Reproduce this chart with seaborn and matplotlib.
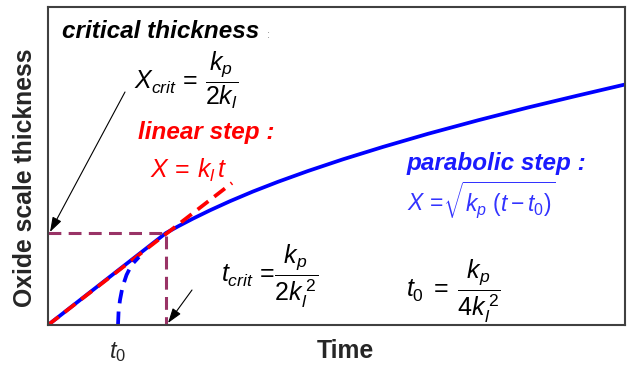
import matplotlib
matplotlib.use("Agg")
import matplotlib.pyplot as plt
import seaborn as sns

# ---- data (arbitrary units: time, thickness) ----
growth_t = [0, 118, 130, 145, 162, 182, 205, 230, 260, 295, 335, 380, 430, 480, 530, 577]
growth_x = [0, 92, 98.6, 106.4, 114.7, 123.8, 133.5, 143.2, 154, 165.7, 178.1, 191.2,
            204.7, 217.5, 229.5, 240.5]

linear_t = [0, 184]
linear_x = [0, 142]

parab_t = [70, 70.6, 72, 74.5, 78.5, 83.5, 91]
parab_x = [0, 14, 25, 38, 50, 60, 68]

crit_t = [0, 118, 118]
crit_x = [92, 92, 0]

t0_tick = [70]
t0_label = [r"$t_{\mathit{0}}$"]

# ---- style ----
sns.set_style("white")
plt.rcParams["font.family"] = ["Liberation Sans", "DejaVu Sans"]
plt.rcParams["mathtext.fontset"] = "custom"
plt.rcParams["mathtext.rm"] = "Liberation Sans"
plt.rcParams["mathtext.it"] = "Liberation Sans:italic"
plt.rcParams["mathtext.bf"] = "Liberation Sans:bold"

W, H = 632, 372
fig = plt.figure(figsize=(W / 100, H / 100), dpi=100)
L, R, T, B = 48, 625, 7, 325
ax = fig.add_axes([L / W, 1 - B / H, (R - L) / W, (B - T) / H])

BLUE = "#0000ff"
RED = "#ff0000"
PURPLE = "#993366"

sns.lineplot(x=growth_t, y=growth_x, sort=False, estimator=None, color=BLUE,
             lw=2.7, ax=ax, solid_joinstyle="round")
sns.lineplot(x=linear_t, y=linear_x, sort=False, estimator=None, color=RED,
             lw=2.7, linestyle=(0, (3.6, 2.0)), ax=ax)
sns.lineplot(x=crit_t, y=crit_x, sort=False, estimator=None, color=PURPLE,
             lw=2.2, linestyle=(0, (4.2, 2.4)), ax=ax)
sns.lineplot(x=parab_t, y=parab_x, sort=False, estimator=None, color=BLUE,
             lw=2.7, linestyle=(0, (3.6, 2.2)), ax=ax)

ax.set_xlim(0, R - L)
ax.set_ylim(0, B - T)
ax.set_xticks(t0_tick)
ax.set_xticklabels(t0_label, fontsize=17)
ax.set_yticks([])
ax.tick_params(axis="x", length=0, pad=11)
for s in ax.spines.values():
    s.set_color("#404040")
    s.set_linewidth(1.5)

ax.set_xlabel("Time", fontsize=17.8, fontweight="bold", va="center")
ax.xaxis.set_label_coords((345 - L) / (R - L), (B - 351) / (B - T))
ax.set_ylabel("Oxide scale thickness", fontsize=17.8, fontweight="bold", va="center")
ax.yaxis.set_label_coords((25 - L) / (R - L), (B - 178) / (B - T))


def px(x, y):
    return x / W, 1 - y / H


fig.text(*px(62, 31), "critical thickness", fontsize=17.5, fontweight="bold",
         fontstyle="italic", color="black", ha="left", va="center")
fig.text(*px(267, 35), ":", fontsize=8, color="#888888", ha="left", va="center")
fig.text(*px(134, 80), r"$X_{crit}\,=\,\dfrac{k_p}{2k_l}$", fontsize=18,
         color="black", ha="left", va="center")
fig.text(*px(138, 133), "linear step :", fontsize=17.5, fontweight="bold",
         fontstyle="italic", color=RED, ha="left", va="center")
fig.text(*px(150, 170), r"$X\,=\,k_l\,t$", fontsize=18, color=RED,
         ha="left", va="center")
fig.text(*px(407, 163), "parabolic step :", fontsize=17.5, fontweight="bold",
         fontstyle="italic", color="#1a1aff", ha="left", va="center")
fig.text(*px(407, 200), r"$X\,=\!\sqrt{k_p\ (t - t_{\mathit{0}})}$", fontsize=16.5,
         color="#3333ff", ha="left", va="center")
fig.text(*px(221, 276), r"$t_{crit}\,=\!\dfrac{k_p}{2k_l^{\,2}}$", fontsize=18,
         color="black", ha="left", va="center")
fig.text(*px(406, 291), r"$t_{\mathit{0}}\;=\;\dfrac{k_p}{4k_l^{\,2}}$", fontsize=18,
         color="black", ha="left", va="center")

arrow = dict(arrowstyle="-|>,head_length=0.6,head_width=0.2", lw=0.8,
             color="black", mutation_scale=15, shrinkA=0, shrinkB=0)
ax.annotate("", xy=(50 / W, 1 - 232 / H), xytext=(125 / W, 1 - 92 / H),
            xycoords="figure fraction", textcoords="figure fraction", arrowprops=arrow)
ax.annotate("", xy=(168 / W, 1 - 323 / H), xytext=(192 / W, 1 - 290 / H),
            xycoords="figure fraction", textcoords="figure fraction", arrowprops=arrow)

fig.savefig("out.png", dpi=100)
